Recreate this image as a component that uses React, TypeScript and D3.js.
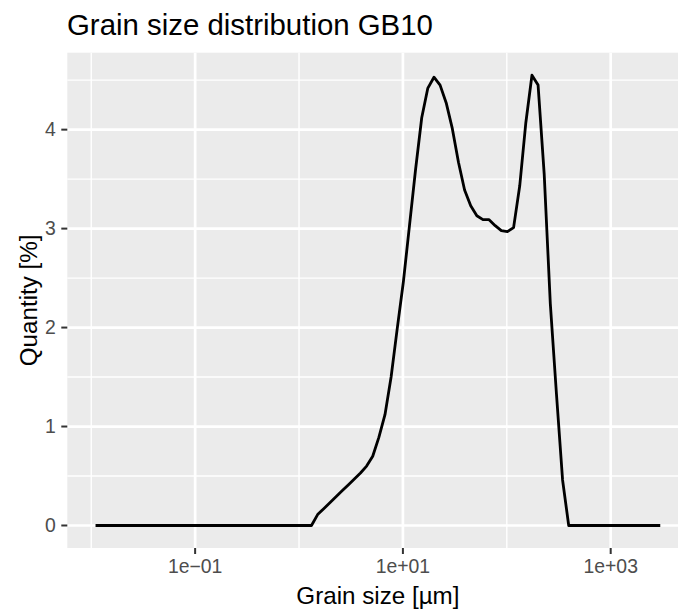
import * as d3 from "d3";

// laser diffraction size classes [µm]
const grainSize = [
  0.011, 0.013, 0.015, 0.017, 0.02, 0.023, 0.026, 0.03, 0.034, 0.039, 0.044, 0.051,
  0.058, 0.067, 0.076, 0.087, 0.1, 0.115, 0.131, 0.15, 0.172, 0.197, 0.226, 0.259,
  0.296, 0.339, 0.389, 0.445, 0.51, 0.584, 0.669, 0.766, 0.877, 1.005, 1.151, 1.318,
  1.51, 1.729, 1.981, 2.269, 2.599, 2.976, 3.409, 3.905, 4.472, 5.122, 5.867, 6.72,
  7.697, 8.816, 10.097, 11.565, 13.246, 15.172, 17.377, 19.904, 22.797, 26.111, 29.907, 34.255,
  39.234, 44.938, 51.471, 58.953, 67.523, 77.339, 88.583, 101.46, 116.21, 133.1, 152.45, 174.62,
  200.0, 229.07, 262.37, 300.52, 344.21, 394.25, 451.56, 517.2, 592.39, 678.5, 777.13, 890.11,
  1019.5, 1167.7, 1337.5, 1531.9, 1754.6, 2009.6, 2301.8, 2636.4, 3000.0,
];

// quantity [%] per class
const quantity = [
  0, 0, 0, 0, 0, 0, 0, 0, 0, 0, 0, 0,
  0, 0, 0, 0, 0, 0, 0, 0, 0, 0, 0, 0,
  0, 0, 0, 0, 0, 0, 0, 0, 0, 0, 0, 0,
  0.11, 0.17, 0.23, 0.29, 0.35, 0.41, 0.47, 0.53, 0.6, 0.7, 0.89, 1.12,
  1.5, 1.99, 2.46, 3.03, 3.6, 4.12, 4.42, 4.53, 4.45, 4.27, 4.01, 3.67,
  3.39, 3.23, 3.13, 3.09, 3.09, 3.03, 2.98, 2.97, 3.01, 3.43, 4.07, 4.55,
  4.45, 3.55, 2.24, 1.33, 0.46, 0, 0, 0, 0, 0, 0, 0,
  0, 0, 0, 0, 0, 0, 0, 0, 0,
];

const xBreaks = [0.1, 10, 1000];
const xLabels = ["1e\u221201", "1e+01", "1e+03"];
const xMinorBreaks = [0.01, 1, 100, 10000];
const yBreaks = [0, 1, 2, 3, 4];
const yMinorBreaks = [0.5, 1.5, 2.5, 3.5, 4.5];

const width = 678;
const height = 613;
const panelLeft = 67.3;
const panelRight = 688.5; // panel runs past the right edge of the picture
const panelTop = 52.7;
const panelBottom = 548;

export default function App() {
  // ggplot style 5% expansion, on the log axis
  const logExt = d3.extent(grainSize.map(Math.log10)) as [number, number];
  const padX = (logExt[1] - logExt[0]) * 0.05;
  const x = d3
    .scaleLog()
    .domain([10 ** (logExt[0] - padX), 10 ** (logExt[1] + padX)])
    .range([panelLeft, panelRight]);

  const yMax = d3.max(quantity) as number;
  const y = d3
    .scaleLinear()
    .domain([-yMax * 0.05, yMax * 1.05])
    .range([panelBottom, panelTop]);

  const line = d3
    .line<number>()
    .x((_, i) => x(grainSize[i]))
    .y((d) => y(d));

  const font = "'Liberation Sans', Arial, sans-serif";

  return (
    <div style={{ position: "absolute", left: 0, top: 0 }}>
      <svg width={width} height={height} style={{ display: "block", background: "white" }}>
        <rect x={panelLeft} y={panelTop} width={panelRight - panelLeft} height={panelBottom - panelTop} fill="#EBEBEB" />
        <g stroke="white" fill="none">
          {yMinorBreaks.map((d) => (
            <line key={"ym" + d} x1={panelLeft} x2={panelRight} y1={y(d)} y2={y(d)} strokeWidth={1.4} />
          ))}
          {xMinorBreaks.map((d) => (
            <line key={"xm" + d} x1={x(d)} x2={x(d)} y1={panelTop} y2={panelBottom} strokeWidth={1.4} />
          ))}
          {yBreaks.map((d) => (
            <line key={"y" + d} x1={panelLeft} x2={panelRight} y1={y(d)} y2={y(d)} strokeWidth={2.7} />
          ))}
          {xBreaks.map((d) => (
            <line key={"x" + d} x1={x(d)} x2={x(d)} y1={panelTop} y2={panelBottom} strokeWidth={2.7} />
          ))}
        </g>

        <path d={line(quantity) as string} fill="none" stroke="black" strokeWidth={2.8} strokeLinejoin="round" />

        {/* axes */}
        <g stroke="#333333" strokeWidth={2}>
          {yBreaks.map((d) => (
            <line key={"yt" + d} x1={panelLeft - 6} x2={panelLeft} y1={y(d)} y2={y(d)} />
          ))}
          {xBreaks.map((d) => (
            <line key={"xt" + d} x1={x(d)} x2={x(d)} y1={panelBottom} y2={panelBottom + 6} />
          ))}
        </g>
        <g fill="#4D4D4D" fontFamily={font} fontSize={19.4}>
          {yBreaks.map((d) => (
            <text key={"yl" + d} x={panelLeft - 11.5} y={y(d)} dy="0.35em" textAnchor="end">
              {d}
            </text>
          ))}
          {xBreaks.map((d, i) => (
            <text key={"xl" + d} x={x(d)} y={573} textAnchor="middle">
              {xLabels[i]}
            </text>
          ))}
        </g>

        <text x={(panelLeft + panelRight) / 2} y={604} textAnchor="middle" fontFamily={font} fontSize={24.2} fill="black">
          Grain size [µm]
        </text>
        <text
          transform={`translate(37,${(panelTop + panelBottom) / 2}) rotate(-90)`}
          textAnchor="middle"
          fontFamily={font}
          fontSize={24.2}
          fill="black"
        >
          Quantity [%]
        </text>
        <text x={67} y={35} fontFamily={font} fontSize={29.4} fill="black">
          Grain size distribution GB10
        </text>
      </svg>
    </div>
  );
}
